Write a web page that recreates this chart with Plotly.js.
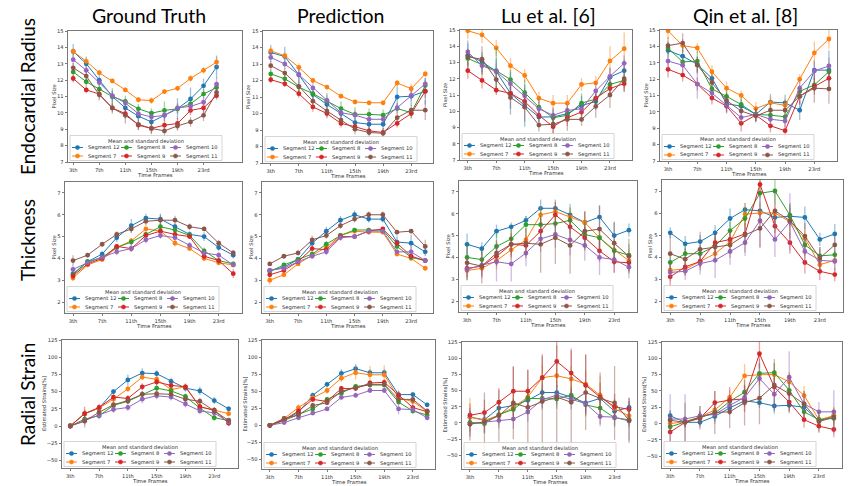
<!DOCTYPE html>
<html><head><meta charset="utf-8">
<script src="https://cdn.plot.ly/plotly-3.0.1.min.js"></script>
<style>html,body{margin:0;padding:0;background:#fff}#chart{width:851px;height:486px}</style>
</head><body><div id="chart"></div>
<script>
// ---------------- DATA ----------------
const frames = [3,5,7,9,11,13,15,17,19,21,23,25];
const tickVals = [3,7,11,15,19,23];
const tickText = ['3th','7th','11th','15th','19th','23rd'];
const segments = ['Segment 12','Segment 7','Segment 8','Segment 9','Segment 10','Segment 11'];
const colTitles = ['Ground Truth','Prediction','Lu et al. [6]','Qin et al. [8]'];
const rowTitles = ['Endocardial Radius','Thickness','Radial Strain'];
const yTitles = ['Pixel Size','Pixel Size','Estimated Strains[%]'];
const xTitle = 'Time Frames';
const legendTitle = 'Mean and standard deviation';

// series order in each: Segment 12, 7, 8, 9, 10, 11
const gtRadiusMean = [
 [13.75,13.0,12.0,11.0,10.3,9.8,9.45,9.85,10.25,10.85,11.65,12.8],
 [13.75,13.15,12.45,11.95,11.4,10.8,10.75,11.3,11.5,12.1,12.6,13.1],
 [12.5,11.9,11.45,11.0,10.7,10.25,9.98,10.15,10.25,10.55,11.15,11.55],
 [12.1,11.4,11.15,10.3,9.95,9.25,9.05,9.25,9.35,10.15,10.3,11.05],
 [13.25,12.6,11.85,11.05,10.6,9.95,9.75,9.85,10.3,10.4,10.65,11.75],
 [12.75,12.25,11.1,10.3,9.85,9.3,9.05,8.9,9.2,9.45,9.85,11.25]];
const gtRadiusErr = [
 [0.45,0.45,0.3,0.35,0.4,0.3,0.3,0.35,0.65,0.7,0.45,0.7],
 [0.2,0.2,0.15,0.15,0.15,0.15,0.2,0.15,0.15,0.2,0.2,0.3],
 [0.3,0.3,0.3,0.5,0.35,0.3,0.3,0.55,0.3,0.3,0.3,0.3],
 [0.25,0.2,0.25,0.25,0.3,0.3,0.3,0.3,0.35,0.3,0.3,0.25],
 [0.35,0.3,0.3,0.3,0.3,0.25,0.25,0.3,0.3,0.3,0.3,0.4],
 [0.3,0.3,0.35,0.35,0.5,0.35,0.35,0.35,0.3,0.3,0.35,0.35]];
const predRadiusMean = [
 [13.7,13.45,12.35,11.15,10.55,10.0,9.45,9.35,9.35,11.0,11.05,11.35],
 [13.8,13.5,12.8,12.0,11.6,11.05,10.7,10.65,10.65,11.85,11.5,12.4],
 [12.4,12.1,11.6,11.2,10.75,10.3,9.95,9.95,9.9,10.3,10.05,11.7],
 [12.05,11.8,11.2,10.4,10.0,9.4,9.2,8.95,8.85,9.4,10.0,11.35],
 [13.4,13.0,12.35,11.55,10.8,10.05,9.9,9.65,9.65,10.35,11.1,11.8],
 [12.9,12.45,11.65,10.75,10.15,9.6,9.05,8.85,8.8,9.75,10.2,10.2]];
const predRadiusErr = [
 [0.45,0.6,0.5,0.35,0.35,0.3,0.3,0.3,0.3,0.65,0.6,0.8],
 [0.2,0.2,0.25,0.15,0.15,0.15,0.15,0.15,0.15,0.2,0.3,0.2],
 [0.25,0.3,0.3,0.3,0.5,0.45,0.45,0.35,0.35,0.3,0.3,0.35],
 [0.2,0.2,0.25,0.3,0.3,0.25,0.25,0.25,0.25,0.25,0.3,0.4],
 [0.3,0.3,0.35,0.3,0.3,0.3,0.3,0.3,0.3,0.3,0.3,0.35],
 [0.3,0.3,0.35,0.35,0.35,0.3,0.3,0.3,0.3,0.3,0.3,0.6]];
const luRadiusMean = [
 [13.45,13.05,12.45,11.1,10.35,9.65,9.65,9.85,10.35,10.6,12.1,12.5],
 [14.95,14.7,13.9,12.8,12.2,10.8,10.5,10.5,11.65,11.75,13.1,13.85],
 [13.25,12.85,12.5,11.95,11.15,10.25,9.6,9.75,10.5,10.75,11.65,11.9],
 [12.5,11.9,11.3,11.1,10.6,9.75,9.05,9.6,9.95,10.8,11.4,11.7],
 [13.65,12.8,12.45,11.7,10.95,10.15,9.75,10.05,10.15,11.25,12.15,12.95],
 [13.35,13.2,11.95,10.85,10.25,9.15,9.2,9.5,9.5,10.3,11.0,12.0]];
const luRadiusErr = [
 [0.9,0.6,0.8,1.3,1.3,0.6,0.5,0.5,0.6,0.5,0.6,0.7],
 [0.5,0.5,0.5,0.5,0.4,0.4,0.5,0.5,0.4,0.4,0.9,1.0],
 [0.5,0.6,1.4,0.6,0.8,0.5,0.4,0.4,0.6,0.4,0.5,0.5],
 [0.5,0.5,0.3,0.4,0.4,0.4,0.5,0.5,0.4,0.4,0.5,0.5],
 [0.5,0.5,0.5,0.5,0.5,0.5,0.5,0.4,0.4,0.5,0.5,0.5],
 [0.5,0.8,0.6,0.7,0.9,0.4,0.7,0.7,0.4,0.7,0.8,0.8]];
const qinRadiusMean = [
 [13.75,13.4,12.9,12.05,10.5,10.35,9.85,10.6,10.55,10.1,12.55,12.55],
 [14.95,14.05,13.9,12.45,11.45,11.0,10.2,10.55,10.4,12.0,13.6,14.45],
 [13.9,13.05,13.1,11.4,10.95,10.45,9.85,9.8,9.7,11.25,11.65,12.45],
 [12.6,12.25,11.7,10.85,10.35,9.3,9.8,9.15,8.85,10.95,11.55,12.05],
 [13.1,12.85,11.7,11.15,10.4,9.65,9.85,9.55,9.45,11.45,12.5,12.8],
 [14.05,14.2,12.85,11.8,10.7,10.05,9.75,10.1,10.1,10.95,11.45,11.4]];
const qinRadiusErr = [
 [0.5,0.5,0.5,0.5,0.5,0.4,0.4,0.5,0.5,0.6,0.6,1.2],
 [0.5,0.4,0.3,0.4,0.4,0.3,0.4,0.4,0.4,0.3,0.7,0.6],
 [0.4,0.4,0.6,0.5,0.4,0.4,0.4,0.4,0.4,0.4,0.4,0.5],
 [0.5,0.4,0.4,0.4,0.4,0.5,0.4,0.4,0.5,0.5,0.5,0.5],
 [0.5,0.5,0.9,0.5,0.5,0.4,0.4,0.4,0.4,0.5,0.5,0.5],
 [0.5,0.6,0.5,0.5,0.5,0.4,0.4,0.4,0.4,0.5,0.9,0.9]];

const gtThickMean = [
 [3.3,3.85,4.2,4.95,5.5,5.85,5.8,5.45,5.1,5.0,4.5,4.15],
 [3.1,3.7,3.95,4.5,4.8,5.35,5.25,4.7,4.45,4.0,3.8,3.7],
 [3.25,3.85,4.05,4.5,4.75,5.1,5.45,5.3,5.05,4.35,3.9,3.75],
 [3.2,3.75,4.0,4.55,4.45,5.05,5.25,5.1,5.0,4.1,3.9,3.3],
 [3.5,3.8,4.05,4.3,4.45,4.85,5.05,4.95,4.6,4.25,4.15,3.7],
 [3.9,4.15,4.65,5.1,5.35,5.7,5.75,5.75,5.45,5.35,4.7,4.25]];
const gtThickErr = [
 [0.15,0.1,0.15,0.2,0.3,0.2,0.25,0.15,0.15,0.2,0.15,0.15],
 [0.15,0.1,0.1,0.1,0.15,0.1,0.1,0.15,0.1,0.1,0.1,0.1],
 [0.15,0.1,0.1,0.1,0.15,0.15,0.15,0.15,0.1,0.15,0.1,0.1],
 [0.15,0.1,0.1,0.1,0.15,0.15,0.15,0.15,0.1,0.15,0.15,0.2],
 [0.15,0.1,0.1,0.15,0.15,0.15,0.15,0.15,0.15,0.15,0.15,0.1],
 [0.25,0.1,0.1,0.15,0.2,0.2,0.25,0.2,0.15,0.1,0.15,0.15]];
const predThickMean = [
 [3.45,3.6,3.95,4.7,5.25,5.75,6.0,5.8,5.8,4.75,4.7,4.3],
 [3.0,3.25,3.75,4.15,4.5,5.05,5.25,5.2,5.2,4.2,4.0,3.55],
 [3.4,3.7,3.95,4.2,4.65,5.05,5.3,5.3,5.3,4.55,4.05,3.9],
 [3.25,3.45,3.85,4.45,4.4,5.0,5.0,5.25,5.35,4.7,4.1,3.9],
 [3.45,3.55,3.85,4.1,4.3,4.95,5.0,5.25,5.25,4.3,4.3,3.9],
 [3.75,4.1,4.25,4.85,5.05,5.5,5.8,6.0,6.0,5.2,5.25,4.55]];
const predThickErr = [
 [0.1,0.15,0.1,0.2,0.2,0.2,0.2,0.15,0.15,0.3,0.4,0.2],
 [0.2,0.1,0.1,0.1,0.1,0.1,0.15,0.1,0.1,0.1,0.1,0.1],
 [0.1,0.1,0.1,0.1,0.15,0.1,0.1,0.1,0.1,0.15,0.1,0.1],
 [0.1,0.1,0.1,0.15,0.15,0.1,0.1,0.1,0.1,0.15,0.1,0.1],
 [0.1,0.1,0.1,0.1,0.15,0.15,0.1,0.1,0.1,0.1,0.3,0.1],
 [0.1,0.1,0.1,0.2,0.15,0.15,0.15,0.15,0.15,0.1,0.1,0.3]];
const luThickMean = [
 [4.6,4.4,5.2,5.4,5.7,6.25,6.25,5.95,5.6,5.85,5.0,5.25],
 [3.4,3.5,3.85,4.35,4.8,5.95,6.1,5.85,5.6,4.9,4.35,3.85],
 [4.0,3.9,4.5,4.85,5.5,5.5,5.55,5.7,5.05,4.9,4.3,4.1],
 [3.5,3.6,4.05,4.6,4.55,5.2,5.95,5.4,4.9,4.3,3.8,3.75],
 [3.45,3.65,3.8,3.7,4.2,4.85,5.05,4.8,4.55,4.0,3.9,3.55],
 [3.75,3.6,4.2,4.6,4.65,4.6,4.9,4.55,5.2,5.3,4.65,4.05]];
const luThickErr = [
 [0.5,0.3,0.3,0.2,0.2,0.4,0.4,0.5,0.5,0.5,0.6,0.3],
 [0.4,0.4,0.4,0.5,0.5,0.4,0.4,0.4,0.5,0.5,0.5,0.5],
 [0.6,0.5,0.6,0.5,0.4,0.6,0.6,0.6,0.5,0.5,0.5,0.5],
 [0.4,0.4,0.4,0.5,0.5,0.6,0.6,0.6,0.5,0.5,0.5,0.4],
 [0.5,0.6,0.9,0.8,0.6,0.6,0.6,0.7,0.7,0.8,0.6,0.5],
 [0.8,0.8,0.6,0.6,0.7,1.3,1.2,1.3,0.9,1.1,1.0,0.8]];
const qinThickMean = [
 [5.1,4.6,4.7,5.1,5.75,6.15,6.1,5.8,5.85,5.8,4.8,5.05],
 [3.4,3.45,3.8,4.15,4.7,5.95,6.0,6.0,5.6,4.85,3.65,3.85],
 [3.75,4.15,4.15,4.5,5.2,5.75,6.9,7.0,5.9,4.55,4.05,4.1],
 [3.1,3.55,3.8,4.65,4.8,5.05,7.3,5.4,4.65,3.75,3.35,3.2],
 [3.3,3.35,3.7,3.85,4.25,4.65,5.65,4.8,5.6,4.25,3.85,3.8],
 [4.15,3.9,4.35,4.45,4.55,5.0,5.3,6.1,5.65,4.95,3.95,4.55]];
const qinThickErr = [
 [0.25,0.35,0.3,0.35,0.45,0.3,0.3,0.4,0.4,0.5,0.3,0.45],
 [0.3,0.3,0.3,0.4,0.4,0.5,0.5,0.4,0.4,0.5,0.4,0.4],
 [0.4,0.4,0.4,0.4,0.4,0.5,0.6,0.6,0.5,0.5,0.4,0.4],
 [0.5,0.4,0.4,0.4,0.4,0.5,0.6,0.5,0.5,0.5,0.4,0.3],
 [0.4,0.4,0.5,0.8,0.6,0.6,1.2,0.8,1.3,0.6,0.5,0.5],
 [0.9,0.5,0.8,0.6,0.6,0.8,0.9,1.0,0.8,0.6,0.5,0.5]];

const gtStrainMean = [
 [0,18,26,50,67,77,76,65,55,51,37,25],
 [0,18,26,39,54,71,68,53,57,28,23,18],
 [0,10,15,30,36,46,55,51,43,26,12,8],
 [0,18,27,42,40,57,64,59,57,28,23,4],
 [0,8,15,24,27,39,44,42,32,22,19,6],
 [0,7,20,31,37,46,47,46,39,36,22,8]];
const gtStrainErr = [
 [0,5,4,4,8,7,5,5,5,6,5,4],
 [0,6,5,5,5,4,5,5,4,4,4,4],
 [0,5,4,4,4,5,5,5,4,4,4,4],
 [0,10,5,5,5,5,5,5,5,4,4,4],
 [0,6,5,5,5,6,5,5,5,5,4,4],
 [0,9,5,5,5,5,5,5,5,5,5,4]];
const predStrainMean = [
 [0,8,19,44,60,76,83,77,77,45,45,30],
 [0,10,26,40,51,69,77,74,74,40,35,20],
 [0,7,16,24,38,47,57,59,59,34,21,15],
 [0,8,21,38,35,54,54,62,63,44,26,20],
 [0,4,11,18,24,41,44,51,51,24,23,11],
 [0,10,15,29,33,50,55,60,60,38,38,21]];
const predStrainErr = [
 [0,3,4,4,4,6,7,5,5,6,4,3],
 [0,3,5,5,5,6,10,13,14,5,5,4],
 [0,3,3,4,4,4,4,4,4,4,4,3],
 [0,3,3,4,4,4,4,4,4,6,5,3],
 [0,3,3,3,3,4,4,3,3,8,5,3],
 [0,3,3,4,3,4,4,4,4,4,6,3]];
const luStrainMean = [
 [9,5,23,27,35,47,47,40,31,38,18,24],
 [9,4,12,24,40,70,73,68,60,43,22,11],
 [1,-1,13,21,38,38,37,43,28,23,8,5],
 [12,16,32,49,49,70,95,77,58,40,25,21],
 [-1,1,4,6,17,36,43,36,30,10,9,3],
 [-2,2,11,31,24,33,40,32,47,38,31,4]];
const luStrainErr = [
 [10,12,10,10,10,12,12,10,12,10,10,10],
 [30,20,15,20,15,20,20,20,20,30,15,15],
 [15,15,12,15,12,15,15,12,15,15,12,12],
 [18,20,22,38,33,36,40,38,48,22,20,18],
 [20,15,12,15,15,15,15,15,15,15,15,30],
 [25,45,40,56,58,70,80,80,58,40,57,35]];
const qinStrainMean = [
 [12,2,2,11,24,35,32,27,28,25,4,12],
 [0,3,10,21,40,73,75,75,64,43,6,12],
 [-5,3,10,16,34,48,77,78,51,18,6,8],
 [-13,2,8,32,36,38,107,56,33,6,-4,-9],
 [7,7,12,14,28,40,69,45,71,30,18,18],
 [5,2,9,17,18,32,39,59,46,30,3,10]];
const qinStrainErr = [
 [8,8,8,8,8,8,8,12,8,8,8,8],
 [10,8,10,10,12,18,18,18,15,15,8,10],
 [10,8,8,10,10,12,15,15,12,10,8,8],
 [15,8,10,18,20,20,22,15,15,12,10,12],
 [38,38,15,15,15,15,30,25,40,20,15,33],
 [15,30,18,33,25,35,40,40,30,20,15,15]];

// ---------------- STYLE / LAYOUT ----------------
const colors = ['#1f77b4','#ff7f0e','#2ca02c','#d62728','#9467bd','#8c564b'];
const errColors = ['rgba(31,119,180,0.45)','rgba(255,127,14,0.45)','rgba(44,160,44,0.45)','rgba(214,39,40,0.45)','rgba(148,103,189,0.45)','rgba(140,86,75,0.45)'];
const W = 851, H = 486;

const panels = [
 {m:gtRadiusMean, e:gtRadiusErr}, {m:predRadiusMean, e:predRadiusErr}, {m:luRadiusMean, e:luRadiusErr}, {m:qinRadiusMean, e:qinRadiusErr},
 {m:gtThickMean, e:gtThickErr}, {m:predThickMean, e:predThickErr}, {m:luThickMean, e:luThickErr}, {m:qinThickMean, e:qinThickErr},
 {m:gtStrainMean, e:gtStrainErr}, {m:predStrainMean, e:predStrainErr}, {m:luStrainMean, e:luStrainErr}, {m:qinStrainMean, e:qinStrainErr}];

// pixel boxes [left, right, top, bottom]
const boxes = [
 [68,242,31,162],[263,433,31,163],[460,632,30,160],[660,837,30,161],
 [65,242,182,313],[262,433,182,313],[459,637,181,312],[662,843,180,312],
 [62,238,340,468],[262,435,340,469],[462,637,342,469],[662,842,342,468]];
const yTitleOffset = [15,15,15,15, 12,12,12,12, 18,18,18,18];
const xTitleOffset = [13,13,13,13, 13,13,13,13, 13,12.5,12.5,13];
const xRanges = [[2.2,28.9],[1.9,26.1],[1.9,26.1],[1.9,26.1],
                 [1.9,26.2],[1.9,26.1],[1.9,26.1],[1.9,26.1],
                 [1.85,26.3],[1.9,26.1],[1.9,26.1],[1.9,26.1]];
const yRanges = [[7,15],[7,15],[7,15],[7,15],
                 [1.5,7.5],[1.5,7.5],[1.5,7.5],[1.5,7.5],
                 [-61,125],[-64,125],[-71,125],[-68,125]];
const yDtick = [1,1,25];

const FS = 5.2;
const small = {family:'DejaVu Sans', size:FS, color:'#333'};
const traces = [];
const layout = {
  width: W, height: H, margin:{l:0,r:0,t:0,b:0},
  paper_bgcolor:'#fff', plot_bgcolor:'#fff', showlegend:false,
  font:small, shapes:[], annotations:[]
};
const px = v => v/W, py = v => 1 - v/H;

panels.forEach((p, i) => {
  const n = i === 0 ? '' : String(i+1);
  const row = Math.floor(i/4);
  const b = boxes[i];
  layout['xaxis'+n] = {
    domain:[b[0]/W, b[1]/W], anchor:'y'+n, range:xRanges[i],
    tickvals:tickVals, ticktext:tickText, ticks:'outside', ticklen:2.5, tickwidth:0.7, tickcolor:'#444',
    showline:true, mirror:true, linecolor:'#555', linewidth:0.8, showgrid:false, zeroline:false, tickfont:small
  };
  layout['yaxis'+n] = {
    domain:[1-b[3]/H, 1-b[2]/H], anchor:'x'+n, range:yRanges[i], dtick:yDtick[row], tick0:0,
    ticks:'outside', ticklen:2.5, tickwidth:0.7, tickcolor:'#444',
    showline:true, mirror:true, linecolor:'#555', linewidth:0.8, showgrid:false, zeroline:false, tickfont:small
  };
  // axis titles
  layout.annotations.push({xref:'paper', yref:'paper', x:px((b[0]+b[1])/2), y:py(b[3]+xTitleOffset[i]), text:xTitle,
    showarrow:false, xanchor:'center', yanchor:'middle', font:{family:'DejaVu Sans', size:5.4, color:'#333'}});
  layout.annotations.push({xref:'paper', yref:'paper', x:px(b[0]-yTitleOffset[i]), y:py((b[2]+b[3])/2), text:yTitles[row],
    showarrow:false, textangle:-90, xanchor:'center', yanchor:'middle', font:{family:'DejaVu Sans', size:FS, color:'#333'}});
  p.m.forEach((ys, k) => {
    traces.push({
      type:'scatter', mode:'lines+markers', x:frames, y:ys, name:segments[k],
      xaxis:'x'+n, yaxis:'y'+n,
      line:{color:colors[k], width:1}, marker:{color:colors[k], size:4.8},
      error_y:{type:'data', array:p.e[k], visible:true, color:errColors[k], thickness:1.3, width:0}
    });
  });
  // matplotlib-like legend box (lower left)
  const L = b[0], B = b[3];
  layout.shapes.push({type:'rect', xref:'paper', yref:'paper', x0:px(L+2), x1:px(L+154), y0:py(B-1.5), y1:py(B-26.5),
    fillcolor:'rgba(255,255,255,0.85)', line:{color:'#cccccc', width:0.8}});
  layout.annotations.push({xref:'paper', yref:'paper', x:px(L+78), y:py(B-21.5), text:legendTitle,
    showarrow:false, xanchor:'center', yanchor:'middle', font:small});
  segments.forEach((s, k) => {
    const c = Math.floor(k/2), r = k % 2;
    const x0 = L + 4 + c*49, y0 = B - 14.5 + r*8.5;
    layout.shapes.push({type:'line', xref:'paper', yref:'paper', x0:px(x0), x1:px(x0+11), y0:py(y0), y1:py(y0),
      line:{color:colors[k], width:1}});
    layout.shapes.push({type:'circle', xref:'paper', yref:'paper', x0:px(x0+3.4), x1:px(x0+7.6), y0:py(y0-2.1), y1:py(y0+2.1),
      fillcolor:colors[k], line:{color:colors[k], width:0.5}});
    layout.annotations.push({xref:'paper', yref:'paper', x:px(x0+14), y:py(y0), text:s, showarrow:false,
      xanchor:'left', yanchor:'middle', font:small});
  });
});

// column titles
const colCenters = [149, 340, 548, 745];
colTitles.forEach((t, c) => {
  layout.annotations.push({xref:'paper', yref:'paper', x:colCenters[c]/W, y:1-15/H, text:t, showarrow:false,
    xanchor:'center', yanchor:'middle', font:{family:'Lato', size:19.5, color:'#000'}});
});
// row titles
const rowCenters = [97, 240, 395];
rowTitles.forEach((t, r) => {
  layout.annotations.push({xref:'paper', yref:'paper', x:27/W, y:1-rowCenters[r]/H, text:t, showarrow:false,
    textangle:-90, xanchor:'center', yanchor:'middle', font:{family:'Lato', size:19, color:'#000'}});
});

Plotly.newPlot('chart', traces, layout, {staticPlot:true, displayModeBar:false});
</script></body></html>
